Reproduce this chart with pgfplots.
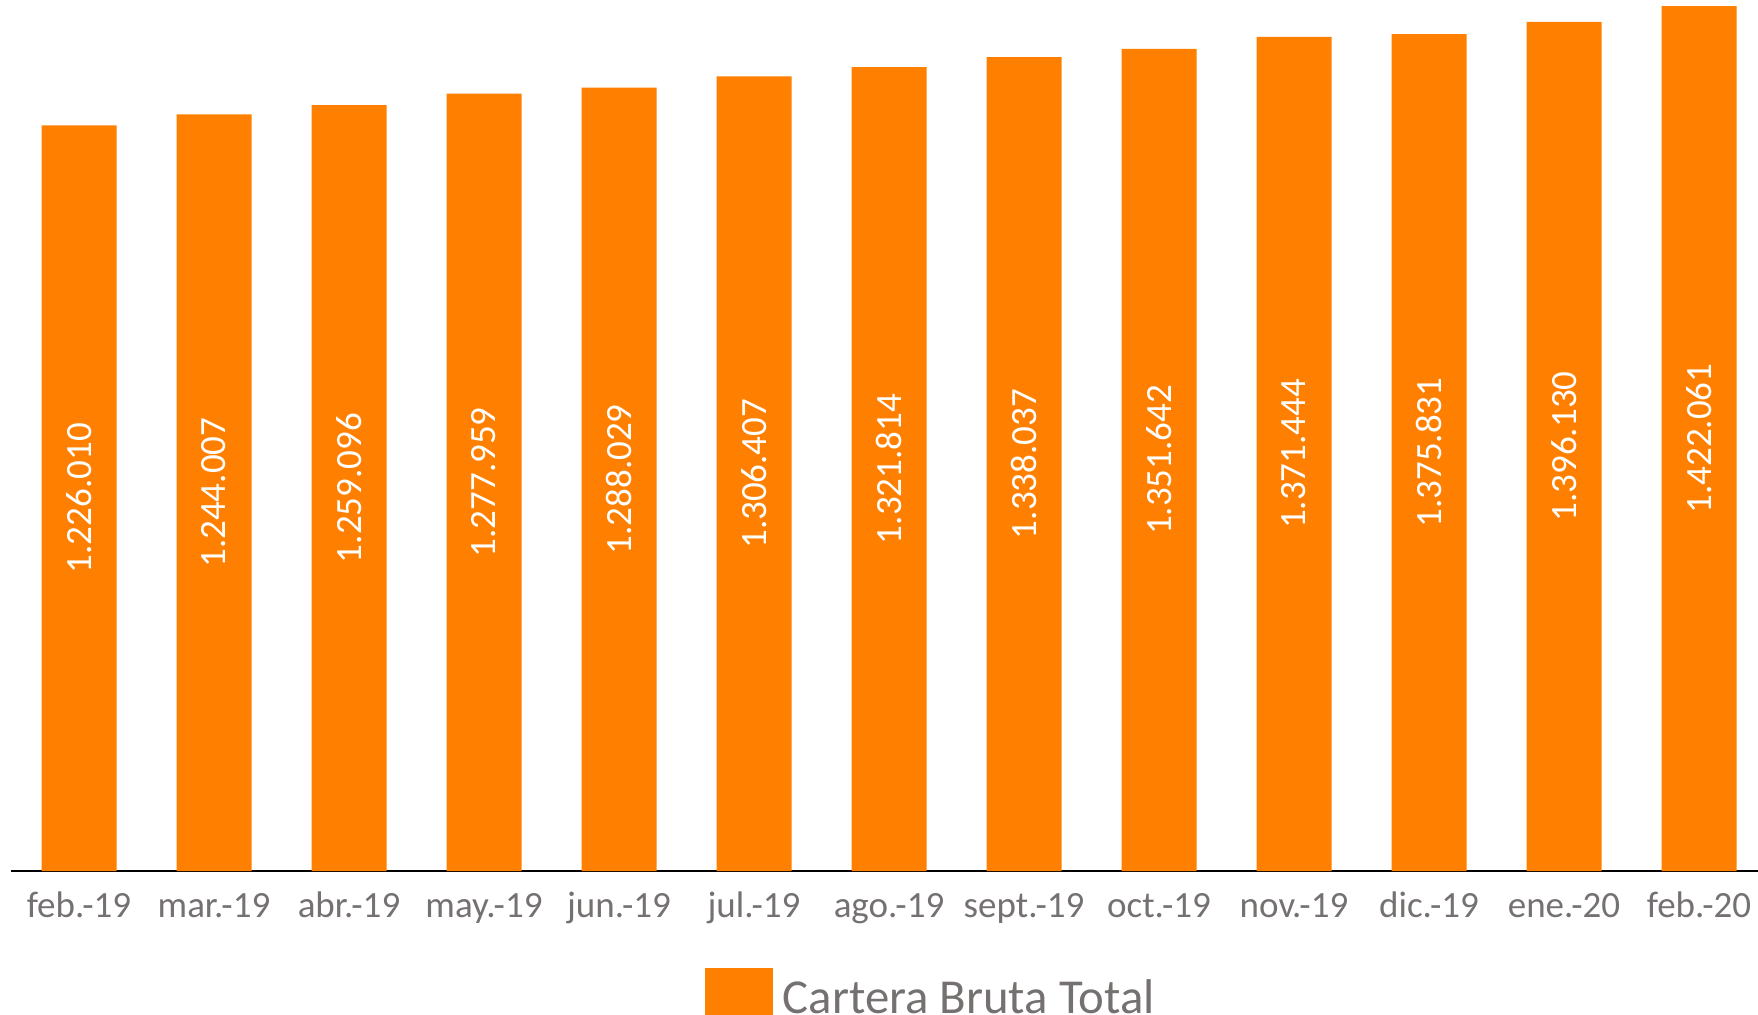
\documentclass[border=0pt]{standalone}
\usepackage{pgfplots}
\pgfplotsset{compat=1.18}
\usepackage{fontspec}
\setmainfont{Carlito}
\definecolor{barorange}{HTML}{FF8000}
\definecolor{txtgray}{HTML}{767171}
\begin{document}
\begin{tikzpicture}
\useasboundingbox (0,0) rectangle (439.5pt,-253.75pt);
\begin{axis}[
  at={(2.875pt,-217.75pt)}, anchor=south west,
  scale only axis,
  width=436.5pt, height=217.75pt,
  xmin=-0.5, xmax=12.433,
  ymin=0, ymax=1432,
  axis y line=none,
  axis x line*=bottom,
  x axis line style={-, draw=black, line width=0.6pt},
  xtick=data,
  xticklabels={feb.-19,mar.-19,abr.-19,may.-19,jun.-19,jul.-19,ago.-19,sept.-19,oct.-19,nov.-19,dic.-19,ene.-20,feb.-20},
  major tick length=0pt,
  xtick style={draw=none},
  xticklabel style={anchor=base, yshift=-11.5pt, font=\fontsize{9.25}{11}\selectfont, text=txtgray},
  ybar, bar width=18.75pt, bar shift=0pt,
  nodes near coords,
  visualization depends on={rawy \as \rawy},
  nodes near coords style={anchor=center, yshift=-\rawy*0.07603pt, rotate=90,
    font=\fontsize{9.25}{11}\selectfont, text=white, inner sep=0pt},
  /pgf/number format/.cd, fixed, fixed zerofill, precision=3, 1000 sep={.}, set decimal separator={.}, assume math mode=true,
  /pgfplots/.cd,
  legend style={draw=none, fill=none, inner sep=0pt, outer sep=0pt,
    at={(axis description cs:0.3971,-0.1504)}, anchor=west,
    font=\fontsize{12.2}{14}\selectfont, text=txtgray,
    nodes={inner sep=0pt, text=txtgray}},
  legend image code/.code={\fill[barorange] (0pt,-8.5pt) rectangle (17pt,8.5pt);},
  legend style={/tikz/every even column/.append style={column sep=0pt}},
  clip=false,
]
\addplot[fill=barorange, draw=none] coordinates {
(0,1226.010) (1,1244.007) (2,1259.096) (3,1277.959) (4,1288.029) (5,1306.407) (6,1321.814)
(7,1338.037) (8,1351.642) (9,1371.444) (10,1375.831) (11,1396.130) (12,1422.061)};
\addlegendentry{\hspace{2.5pt}\raisebox{1.2pt}{Cartera Bruta Total}}
\end{axis}
\end{tikzpicture}
\end{document}
